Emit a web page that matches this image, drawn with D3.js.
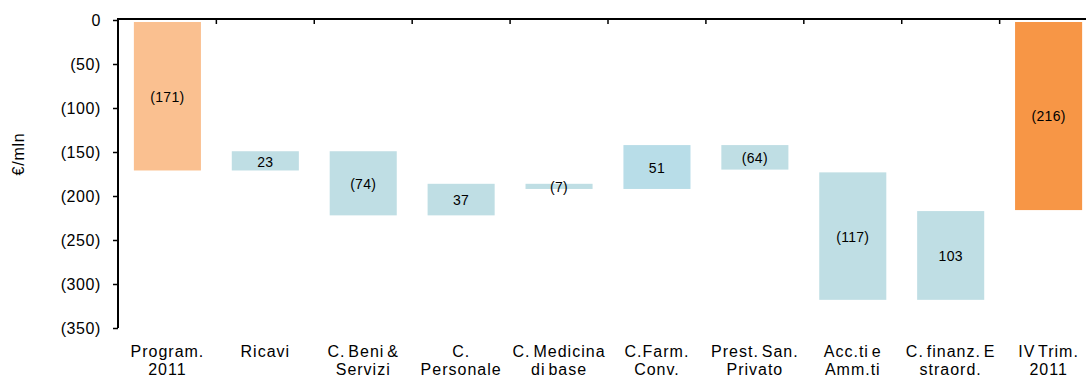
<!DOCTYPE html>
<html>
<head>
<meta charset="utf-8">
<script src="https://cdn.jsdelivr.net/npm/d3@7"></script>
<style>
  body { margin: 0; background: #fff; }
  text { font-family: "Liberation Sans", Arial, sans-serif; fill: #000; }
</style>
</head>
<body>
<svg id="chart" width="1086" height="378"></svg>
<script>
// Data
const categories = [
  ["Program.", "2011"],
  ["Ricavi"],
  ["C. Beni &", "Servizi"],
  ["C.", "Personale"],
  ["C. Medicina", "di base"],
  ["C.Farm.", "Conv."],
  ["Prest. San.", "Privato"],
  ["Acc.ti e", "Amm.ti"],
  ["C. finanz. E", "straord."],
  ["IV Trim.", "2011"]
];
// bar start / end values (€/mln) as drawn
const barStart = [0, -148, -148, -185, -185, -141, -141, -172, -216, 0];
const barEnd   = [-171, -171, -222, -222, -192, -192, -170, -318, -318, -216];
const barLabels = ["(171)", "23", "(74)", "37", "(7)", "51", "(64)", "(117)", "103", "(216)"];
const barKinds = ["start", "delta", "delta", "delta", "delta", "delta2", "delta", "delta", "delta", "end"];
const yTicks = [0, -50, -100, -150, -200, -250, -300, -350];

const colors = { start: "#FAC090", end: "#F79646", delta: "#BFDEE4", delta2: "#B8DDE8" };

const svg = d3.select("#chart");
const x = d3.scaleBand()
  .domain(d3.range(categories.length))
  .range([118.5, 1097.5])
  .paddingInner(0.315)
  .paddingOuter(0.157);
const y = d3.scaleLinear().domain([0, -350]).range([20, 328]);

// bars
svg.append("g").selectAll("rect")
  .data(d3.range(categories.length))
  .join("rect")
  .attr("x", i => x(i))
  .attr("width", x.bandwidth())
  .attr("y", i => y(Math.max(barStart[i], barEnd[i])) + (Math.max(barStart[i], barEnd[i]) === 0 ? 2 : 1))
  .attr("height", i => Math.abs(y(barStart[i]) - y(barEnd[i])) - (Math.max(barStart[i], barEnd[i]) === 0 ? 2 : 1))
  .attr("fill", i => colors[barKinds[i]]);

// bar labels
svg.append("g").selectAll("text")
  .data(d3.range(categories.length))
  .join("text")
  .attr("x", i => x(i) + x.bandwidth() / 2)
  .attr("y", i => (y(barStart[i]) + y(barEnd[i])) / 2 + 1.5)
  .attr("dy", "0.35em")
  .attr("text-anchor", "middle")
  .style("font-size", "14px")
  .style("letter-spacing", "0.3px")
  .text(i => barLabels[i]);

// y axis
const yAxis = d3.axisLeft(y)
  .tickValues(yTicks)
  .tickSize(5)
  .tickFormat(d => d === 0 ? "0" : "(" + (-d) + ")");
const gy = svg.append("g").attr("transform", "translate(118,0)").call(yAxis);
gy.select(".domain").attr("stroke", "#000").attr("stroke-width", 2).attr("d", "M0,19V328");
gy.selectAll(".tick line").attr("stroke", "#000").attr("stroke-width", 1.5);
gy.selectAll(".tick text")
  .attr("x", -17)
  .style("font-size", "16px")
  .style("letter-spacing", "0.6px")
  .style("font-family", "'Liberation Sans', Arial, sans-serif")
  .attr("fill", "#000");

// top category axis (at value 0)
const boundaries = d3.range(1, categories.length).map(i => x(i) - x.step() * x.paddingInner() / 2);
const gx = svg.append("g");
gx.append("line")
  .attr("x1", 117).attr("x2", 1086)
  .attr("y1", y(0) - 1).attr("y2", y(0) - 1)
  .attr("stroke", "#000").attr("stroke-width", 2);
gx.selectAll("line.tk")
  .data(boundaries)
  .join("line")
  .attr("class", "tk")
  .attr("x1", d => d).attr("x2", d => d)
  .attr("y1", y(0)).attr("y2", y(0) + 4)
  .attr("stroke", "#000").attr("stroke-width", 1.5);

// category labels
const lbl = svg.append("g").selectAll("text")
  .data(d3.range(categories.length))
  .join("text")
  .attr("x", i => x(i) + x.bandwidth() / 2)
  .attr("y", 357)
  .attr("text-anchor", "middle")
  .style("font-size", "16px")
  .style("letter-spacing", "1px")
  .style("word-spacing", "-2.5px");
lbl.selectAll("tspan")
  .data(i => categories[i].map(t => ({ t, i })))
  .join("tspan")
  .attr("x", d => x(d.i) + x.bandwidth() / 2)
  .attr("dy", (d, k) => k === 0 ? 0 : 18)
  .text(d => d.t);

// y axis title
svg.append("text")
  .attr("transform", "translate(24,154) rotate(-90)")
  .attr("text-anchor", "middle")
  .style("font-size", "16px")
  .style("letter-spacing", "0.8px")
  .text("€/mln");
</script>
</body>
</html>
